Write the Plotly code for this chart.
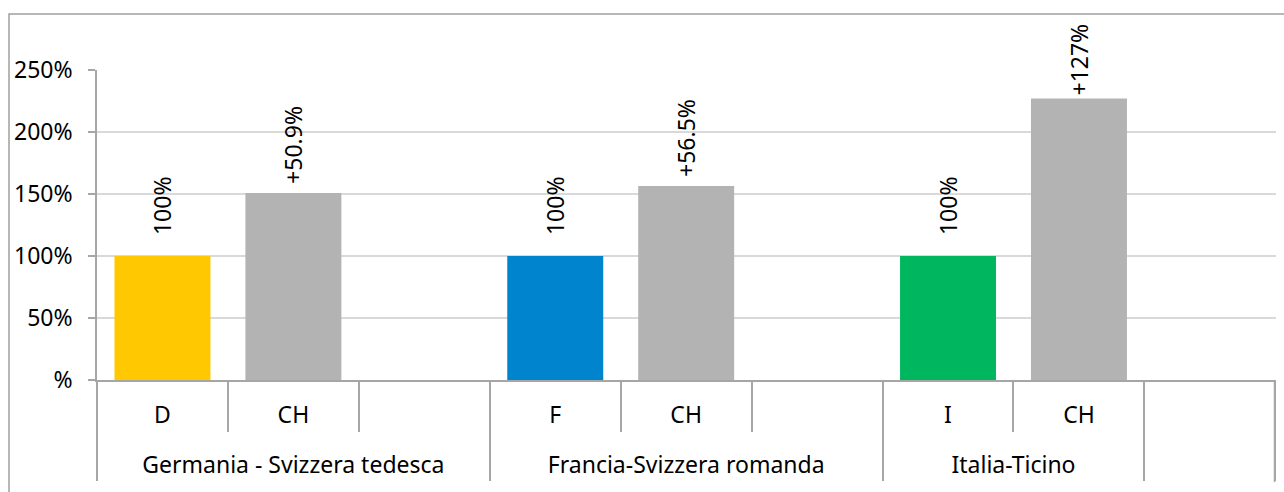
import plotly.graph_objects as go

groups = ["Germania - Svizzera tedesca", "Germania - Svizzera tedesca", "Germania - Svizzera tedesca",
          "Francia-Svizzera romanda", "Francia-Svizzera romanda", "Francia-Svizzera romanda",
          "Italia-Ticino", "Italia-Ticino", ""]
categories = ["D", "CH", "", "F", "CH", "", "I", "CH", ""]
values = [100, 150.9, None, 100, 156.5, None, 100, 227, None]
labels = ["100%", "+50.9%", "", "100%", "+56.5%", "", "100%", "+127%", ""]
colors = ["#FFC800", "#B3B3B3", "#FFFFFF", "#0084CE", "#B3B3B3", "#FFFFFF", "#00B760", "#B3B3B3", "#FFFFFF"]
y_tickvals = [0, 50, 100, 150, 200, 250]
y_ticktext = ["%", "50%", "100%", "150%", "200%", "250%"]

# extra label gap (in non-breaking spaces) to mimic Excel label placement
label_gap = [3, 1, 0, 3, 1, 0, 3, 0, 0]

FONT = "Noto Sans"
AXIS_COL = "#A6A6A6"
FS = 23
BASE_FS = 15


def big(s):
    return "<span style='font-size:%dpx'>%s</span>" % (FS, s)


# multicategory keys must be unique so plotly keeps the given order
keys_outer, keys_inner = [], []
seen = {}
for g, c in zip(groups, categories):
    base = big(c if c else "\u00a0")
    cnt = seen.get(base, 0)
    seen[base] = cnt + 1
    keys_inner.append(base + "\u200b" * cnt)
    keys_outer.append("\u00a0<br>\u00a0<br>" + big(g if g else "\u00a0"))

texts = ["\u00a0" * p + t if t else "" for p, t in zip(label_gap, labels)]

fig = go.Figure(go.Bar(
    x=[keys_outer, keys_inner],
    y=values,
    marker=dict(color=colors, line=dict(width=0)),
    text=texts,
    textposition="outside",
    textangle=-90,
    constraintext="none",
    cliponaxis=False,
    textfont=dict(family=FONT, size=FS, color="#000000"),
    hoverinfo="skip",
))

PLOT_W, PLOT_H = 1179, 310
x_end = 1 - 1.5 / PLOT_W
y_bot = (380 - 482) / PLOT_H

shapes = [
    # right end divider
    dict(type="line", xref="paper", yref="paper",
         x0=x_end, x1=x_end, y0=0, y1=y_bot,
         line=dict(color=AXIS_COL, width=1.5)),
    # outer chart border
    dict(type="rect", xref="paper", yref="paper",
         x0=(9 - 97) / PLOT_W, x1=1.05, y0=-0.6, y1=(380 - 14) / PLOT_H,
         line=dict(color="#A0A0A0", width=1.5), fillcolor="rgba(0,0,0,0)"),
]

fig.update_layout(
    width=1284, height=492,
    margin=dict(l=97, r=8, t=70, b=112, autoexpand=False),
    paper_bgcolor="white", plot_bgcolor="white",
    bargap=0.267,
    showlegend=False,
    font=dict(family=FONT, size=FS, color="#000000"),
    shapes=shapes,
    xaxis=dict(
        type="multicategory",
        range=[-0.5, len(categories) - 0.495],
        automargin=False,
        showline=True, linecolor=AXIS_COL, linewidth=1.5,
        ticks="outside", tickson="boundaries", ticklen=50,
        tickcolor=AXIS_COL, tickwidth=1.5,
        showdividers=True, dividercolor=AXIS_COL, dividerwidth=1.5,
        tickfont=dict(family=FONT, size=BASE_FS, color="#000000"),
        ticklabelstandoff=23,
        showgrid=False,
    ),
    yaxis=dict(
        range=[0, 250],
        automargin=False,
        tickvals=y_tickvals, ticktext=y_ticktext,
        showline=True, linecolor=AXIS_COL, linewidth=1.5,
        ticks="outside", ticklen=7, tickcolor=AXIS_COL, tickwidth=1.5,
        showgrid=True, gridcolor="#D9D9D9", gridwidth=1.5,
        zeroline=False,
        tickfont=dict(family=FONT, size=FS, color="#000000"),
        ticklabelstandoff=11,
    ),
)

fig.write_html("out.html", config={"displayModeBar": False},
               post_script="document.body.style.margin='0';document.body.style.overflow='hidden';")
